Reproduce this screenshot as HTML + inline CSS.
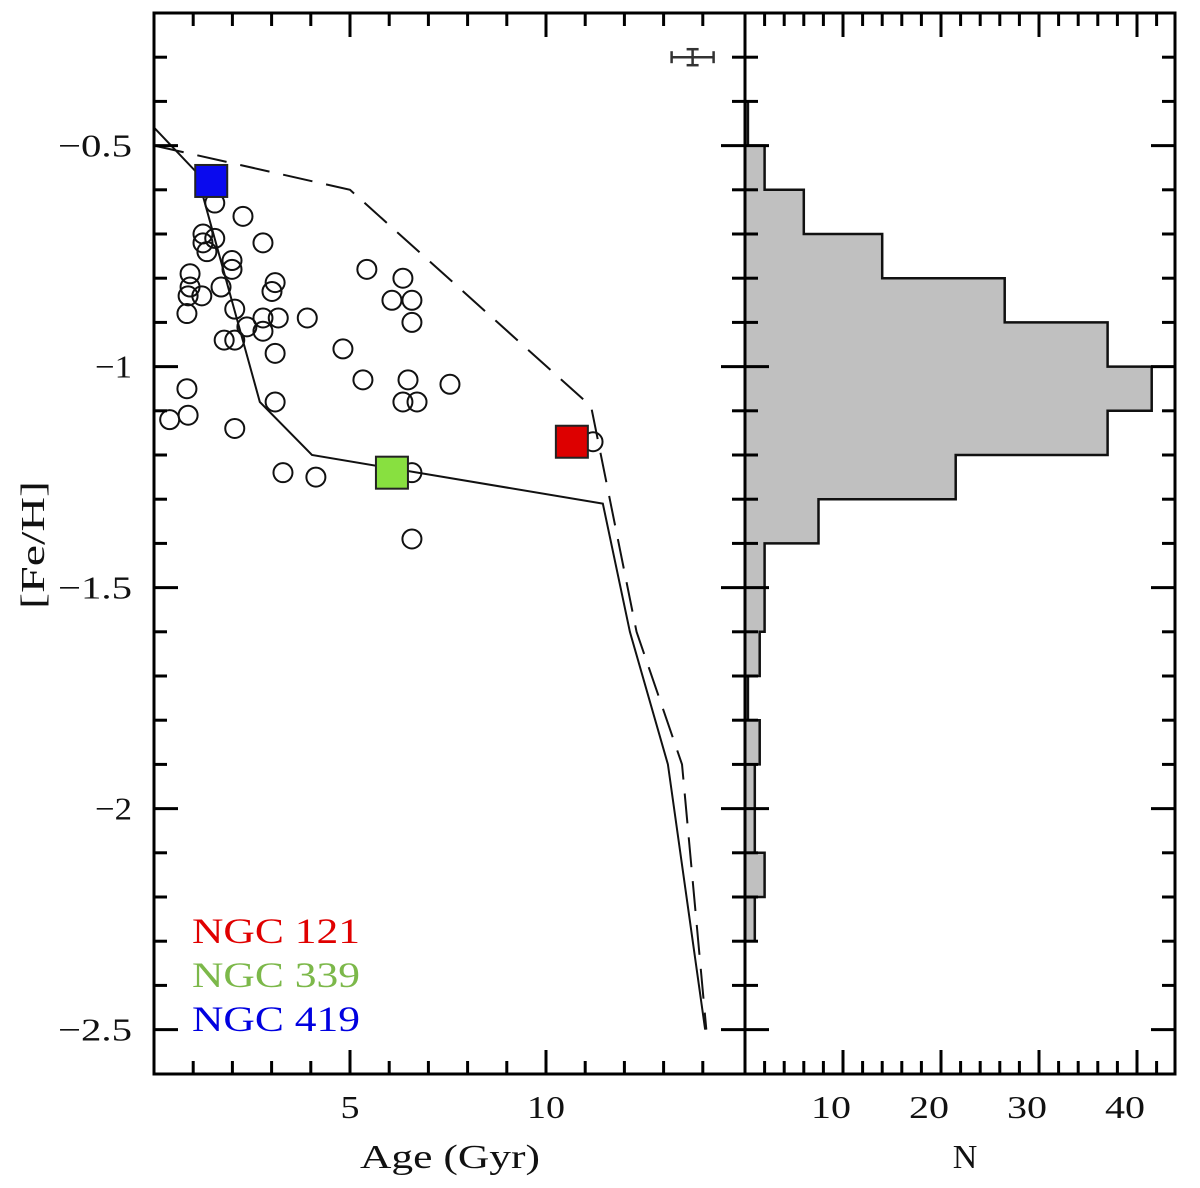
<!DOCTYPE html>
<html><head><meta charset="utf-8"><style>
body{margin:0;background:#fff;}
svg{display:block;font-family:"Liberation Serif",serif;}
</style></head><body>
<svg id="c" width="1200" height="1188" viewBox="0 0 1200 1188" xmlns="http://www.w3.org/2000/svg"></svg>
<script>
const clusterAges=[1.55,2.27,1.25,1.55,1.25,1.35,2.78,1.99,1.99,0.92,0.92,0.87,1.22,1.71,3.09,3.01,0.84,2.06,2.37,2.78,3.17,2.78,3.91,1.79,2.06,3.09,4.82,5.43,6.35,6.07,6.58,6.58,5.33,6.48,6.35,6.71,7.55,0.84,0.40,0.87,2.06,3.09,3.29,4.13,6.58,11.2,6.58];
const clusterFeH=[-0.63,-0.66,-0.70,-0.71,-0.72,-0.74,-0.72,-0.76,-0.78,-0.79,-0.82,-0.84,-0.84,-0.82,-0.81,-0.83,-0.88,-0.87,-0.91,-0.89,-0.89,-0.92,-0.89,-0.94,-0.94,-0.97,-0.96,-0.78,-0.80,-0.85,-0.85,-0.90,-1.03,-1.03,-1.08,-1.08,-1.04,-1.05,-1.12,-1.11,-1.14,-1.08,-1.24,-1.25,-1.39,-1.17,-1.24];
const highlightNames=["NGC 121","NGC 339","NGC 419"];
const highlightAges=[10.66,6.07,1.46];
const highlightFeH=[-1.17,-1.24,-0.58];
const highlightColors=["#dd0000","#88e040","#0a0aee"];
const legendColors=["#e00000","#7cb84a","#0000e0"];
const solidAges=[0.01,1.08,2.70,4.03,11.45,12.14,13.11,14.06];
const solidFeH=[-0.46,-0.56,-1.08,-1.20,-1.31,-1.6,-1.90,-2.5];
const dashAges=[0.01,5.0,11.15,12.31,13.47,14.09];
const dashFeH=[-0.5,-0.6,-1.09,-1.6,-1.9,-2.5];
const histBinLo=[-0.5,-0.6,-0.7,-0.8,-0.9,-1.0,-1.1,-1.2,-1.3,-1.4,-1.5,-1.6,-1.7,-1.8,-1.9,-2.0,-2.1,-2.2];
const histCounts=[0.3,2,6,14,26.5,37,41.5,37,21.5,7.5,2,2,1.5,0.3,1.5,1,1,2,1];
const yTicks=[-0.5,-1,-1.5,-2,-2.5];
const yTickLabels=["−0.5","−1","−1.5","−2","−2.5"];
const xTicks=[5,10];
const nTicks=[10,20,30,40];

const S=document.getElementById('c');const NS="http://www.w3.org/2000/svg";
function el(t,a,p){const e=document.createElementNS(NS,t);for(const k in a)e.setAttribute(k,a[k]);(p||S).appendChild(e);return e;}
const L=154,M=745,R=1175,T=13,B=1074;
const X=a=>154+a*39.2;
const Y=f=>T+(-0.2-f)*442;
const XN=n=>745+n*9.8;

const histLo=histBinLo.slice();
histLo.push(-2.3);
let hp="M"+M+","+Y(-0.4);
for(let i=0;i<histCounts.length;i++){
  const lo=histLo[i]; const hi=lo+0.1;
  const xr=XN(histCounts[i]);
  hp+=" L"+xr+","+Y(hi)+" L"+xr+","+Y(lo);
}
hp+=" L"+M+","+Y(-2.3)+" Z";
const hist=el('path',{d:hp,fill:'#c0c0c0',stroke:'#111','stroke-width':2.5});



function poly(ax,fy,extra,name){
  const pts=ax.map((a,i)=>X(a)+","+Y(fy[i])).join(" ");
  const p=el('polyline',Object.assign({points:pts,fill:'none',stroke:'#111','stroke-width':2},extra));
  
  
}
poly(solidAges,solidFeH,{},'model-solid-line');
poly(dashAges,dashFeH,{'stroke-dasharray':'30 14'},'model-dashed-line');

for(let i=0;i<clusterAges.length;i++){
  const c=el('circle',{cx:X(clusterAges[i]),cy:Y(clusterFeH[i]),r:9.5,fill:'none',stroke:'#111','stroke-width':2});
  
  
}
for(let i=0;i<highlightAges.length;i++){
  const s=el('rect',{x:X(highlightAges[i])-16,y:Y(highlightFeH[i])-16,width:32,height:32,fill:highlightColors[i],stroke:'#222','stroke-width':2});
  
  
}
const eb=el('g',{stroke:'#333','stroke-width':2.5});


const ex=X(13.74),ey=Y(-0.3);
el('line',{x1:ex-21,y1:ey,x2:ex+21,y2:ey},eb);
el('line',{x1:ex-21,y1:ey-6,x2:ex-21,y2:ey+6},eb);
el('line',{x1:ex+21,y1:ey-6,x2:ex+21,y2:ey+6},eb);
el('line',{x1:ex,y1:ey-8,x2:ex,y2:ey+8},eb);
el('line',{x1:ex-6,y1:ey-8,x2:ex+6,y2:ey-8},eb);
el('line',{x1:ex-6,y1:ey+8,x2:ex+6,y2:ey+8},eb);

const tk=el('g',{stroke:'#000','stroke-width':3});


for(let f=-0.3;f>=-2.55;f-=0.1){
  const v=Math.round(f*10)/10; const maj=Math.abs(v*2-Math.round(v*2))<1e-6;
  const len=maj?24:13,y=Y(v);
  el('line',{x1:L,y1:y,x2:L+len,y2:y},tk);
  el('line',{x1:M-len,y1:y,x2:M,y2:y},tk);
  el('line',{x1:M,y1:y,x2:M+len,y2:y},tk);
  el('line',{x1:R-len,y1:y,x2:R,y2:y},tk);
}
for(let a=1;a<=14;a++){
  const len=a%5===0?24:13,x=X(a);
  el('line',{x1:x,y1:B,x2:x,y2:B-len},tk);
  el('line',{x1:x,y1:T,x2:x,y2:T+len},tk);
}
for(let n=2;n<=42;n+=2){
  const len=n%10===0?24:13,x=XN(n);
  el('line',{x1:x,y1:B,x2:x,y2:B-len},tk);
  el('line',{x1:x,y1:T,x2:x,y2:T+len},tk);
}
const f1=el('rect',{x:L,y:T,width:M-L,height:B-T,fill:'none',stroke:'#000','stroke-width':3});


const f2=el('rect',{x:M,y:T,width:R-M,height:B-T,fill:'none',stroke:'#000','stroke-width':3});



function txt(s,a,name){const t=el('text',Object.assign({'font-size':32,fill:'#111'},a));t.textContent=s;
  
  return t;}
yTicks.forEach((v,i)=>txt(yTickLabels[i],{x:132,y:Y(v)+11,'text-anchor':'end',textLength:yTickLabels[i].length*18.5,lengthAdjust:'spacingAndGlyphs'},'y-tick-label'));
xTicks.forEach(v=>txt(String(v),{x:X(v),y:1118,'text-anchor':'middle',textLength:String(v).length*19,lengthAdjust:'spacingAndGlyphs'},'x-tick-label'));
nTicks.forEach(v=>txt(String(v),{x:XN(v)-12,y:1118,'text-anchor':'middle',textLength:40,lengthAdjust:'spacingAndGlyphs'},'n-tick-label'));
txt("Age (Gyr)",{x:450,y:1168,'text-anchor':'middle','font-size':34,textLength:180,lengthAdjust:'spacingAndGlyphs'},'x-axis-title');
txt("N",{x:965,y:1168,'text-anchor':'middle','font-size':34},'n-axis-title');
txt("[Fe/H]",{x:0,y:0,'text-anchor':'middle','font-size':34,textLength:128,lengthAdjust:'spacingAndGlyphs',transform:'translate(44,545) rotate(-90)'},'y-axis-title');
highlightNames.forEach((n,i)=>txt(n,{x:192,y:943+i*44,'font-size':36,fill:legendColors[i],textLength:168,lengthAdjust:'spacingAndGlyphs'},'legend-entry'));
</script>
</body></html>
